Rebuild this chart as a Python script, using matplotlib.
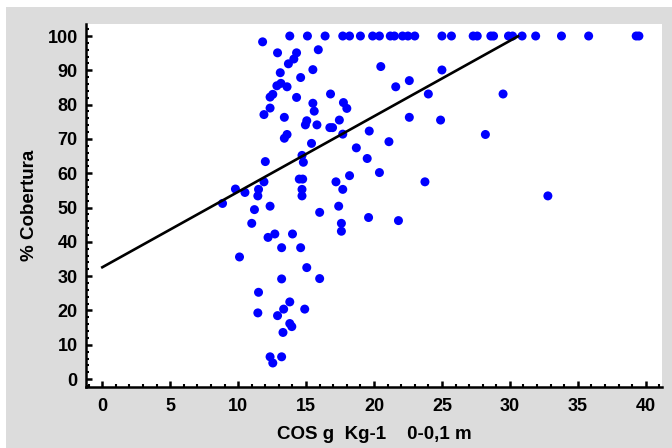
import matplotlib
matplotlib.use("Agg")
import matplotlib.pyplot as plt
from matplotlib.ticker import MultipleLocator
from matplotlib.patches import Rectangle
import numpy as np

# top row (cobertura = 100)
top_x = [13.8, 15.1, 16.4, 17.7, 18.2, 19.0, 19.9, 20.4, 21.2, 21.5, 22.1, 22.5, 23.0,
         25.0, 25.7, 27.3, 27.6, 28.6, 28.8, 29.9, 30.2, 30.9, 31.9, 33.8, 35.8, 39.3, 39.5]
top_y = [100] * len(top_x)

other_x = [11.8, 12.9, 14.3, 14.1, 13.7, 15.9, 15.5, 13.1, 14.6, 12.85, 13.15, 13.6,
           12.35, 12.55, 14.3, 12.35, 11.9, 13.4, 15.5, 15.6, 15.05, 14.95, 15.8, 13.6,
           13.4, 15.4, 12.0, 11.9, 9.8, 10.5, 11.5, 11.45, 8.85, 12.35, 11.2, 11.0,
           12.2, 12.7, 14.0, 13.2, 14.6, 10.1, 13.2, 16.0, 15.05, 11.5, 13.8, 13.35,
           14.9, 11.45, 12.9, 13.8, 13.95, 13.3, 12.35, 12.55, 13.2, 14.7, 14.8, 14.5,
           14.75, 14.7, 14.7, 16.0, 16.8, 21.6, 22.6, 24.0, 20.5, 25.0, 17.75, 18.0,
           16.75, 16.95, 17.45, 22.6, 24.9, 17.7, 19.65, 18.7, 21.1, 19.5, 18.2, 20.4,
           17.2, 23.75, 17.7, 17.4, 19.6, 21.8, 17.6, 17.6, 29.5, 28.2, 32.8]
other_y = [98.3, 95.1, 95.1, 93.3, 91.9, 96.0, 90.2, 89.3, 87.9, 85.5, 86.2, 85.2,
           82.2, 83.0, 82.1, 79.0, 77.1, 76.3, 80.4, 78.1, 75.3, 74.1, 74.1, 71.3,
           70.2, 68.7, 63.4, 57.5, 55.4, 54.4, 55.3, 53.4, 51.2, 50.4, 49.4, 45.4,
           41.3, 42.3, 42.3, 38.3, 38.3, 35.6, 29.2, 29.3, 32.5, 25.3, 22.5, 20.4,
           20.4, 19.3, 18.5, 16.2, 15.3, 13.6, 6.5, 4.7, 6.5, 65.2, 63.2, 58.3,
           58.3, 55.3, 53.4, 48.6, 83.1, 85.2, 87.0, 83.1, 91.1, 90.1, 80.6, 78.9,
           73.3, 73.3, 75.5, 76.3, 75.5, 71.4, 72.3, 67.4, 69.2, 64.3, 59.3, 60.2,
           57.5, 57.5, 55.3, 50.4, 47.1, 46.2, 45.4, 43.1, 83.1, 71.3, 53.4]

# fitted line
intercept = 32.6
slope = 2.2
line_x_end = 30.6

xticks = [0, 5, 10, 15, 20, 25, 30, 35, 40]
yticks = [0, 10, 20, 30, 40, 50, 60, 70, 80, 90, 100]

plt.rcParams['font.family'] = ['Liberation Sans', 'DejaVu Sans']

fig = plt.figure(figsize=(6.72, 4.48), dpi=100, facecolor='white')
fig.patches.append(Rectangle((6/672, 0), 1 - 6/672, 441/448, transform=fig.transFigure,
                             facecolor='#dcdcdc', edgecolor='none', zorder=-10))
ax = fig.add_axes([86/672, 61/448, 576/672, 363/448])
ax.set_facecolor('white')

ax.scatter(top_x + other_x, top_y + other_y, s=42, color='#0000ff', edgecolors='none', zorder=3)
lx = np.array([0, line_x_end])
ax.plot(lx, intercept + slope * lx, color='black', lw=1.9, zorder=4)

ax.set_xlim(-1.2, 41.2)
ax.set_ylim(-2.3, 103.5)
ax.set_xticks(xticks)
ax.set_yticks(yticks)
ax.xaxis.set_minor_locator(MultipleLocator(1))
ax.yaxis.set_minor_locator(MultipleLocator(2))
for s in ['top', 'right']:
    ax.spines[s].set_visible(False)
for s in ['left', 'bottom']:
    ax.spines[s].set_linewidth(1.8)
ax.tick_params(which='major', direction='in', length=4.5, width=1.8, labelsize=13)
ax.tick_params(axis='x', which='major', pad=8)
ax.tick_params(axis='y', which='major', pad=6)
ax.tick_params(which='minor', direction='in', length=2.2, width=1.5)
for lab in ax.get_xticklabels() + ax.get_yticklabels():
    lab.set_fontweight('bold')

ax.set_xlabel('COS g  Kg-1    0-0,1 m', fontsize=13.5, fontweight='bold', labelpad=8)
ax.set_ylabel('% Cobertura', fontsize=13.5, fontweight='bold', labelpad=7)

fig.savefig('out.png', dpi=100, facecolor=fig.get_facecolor())
